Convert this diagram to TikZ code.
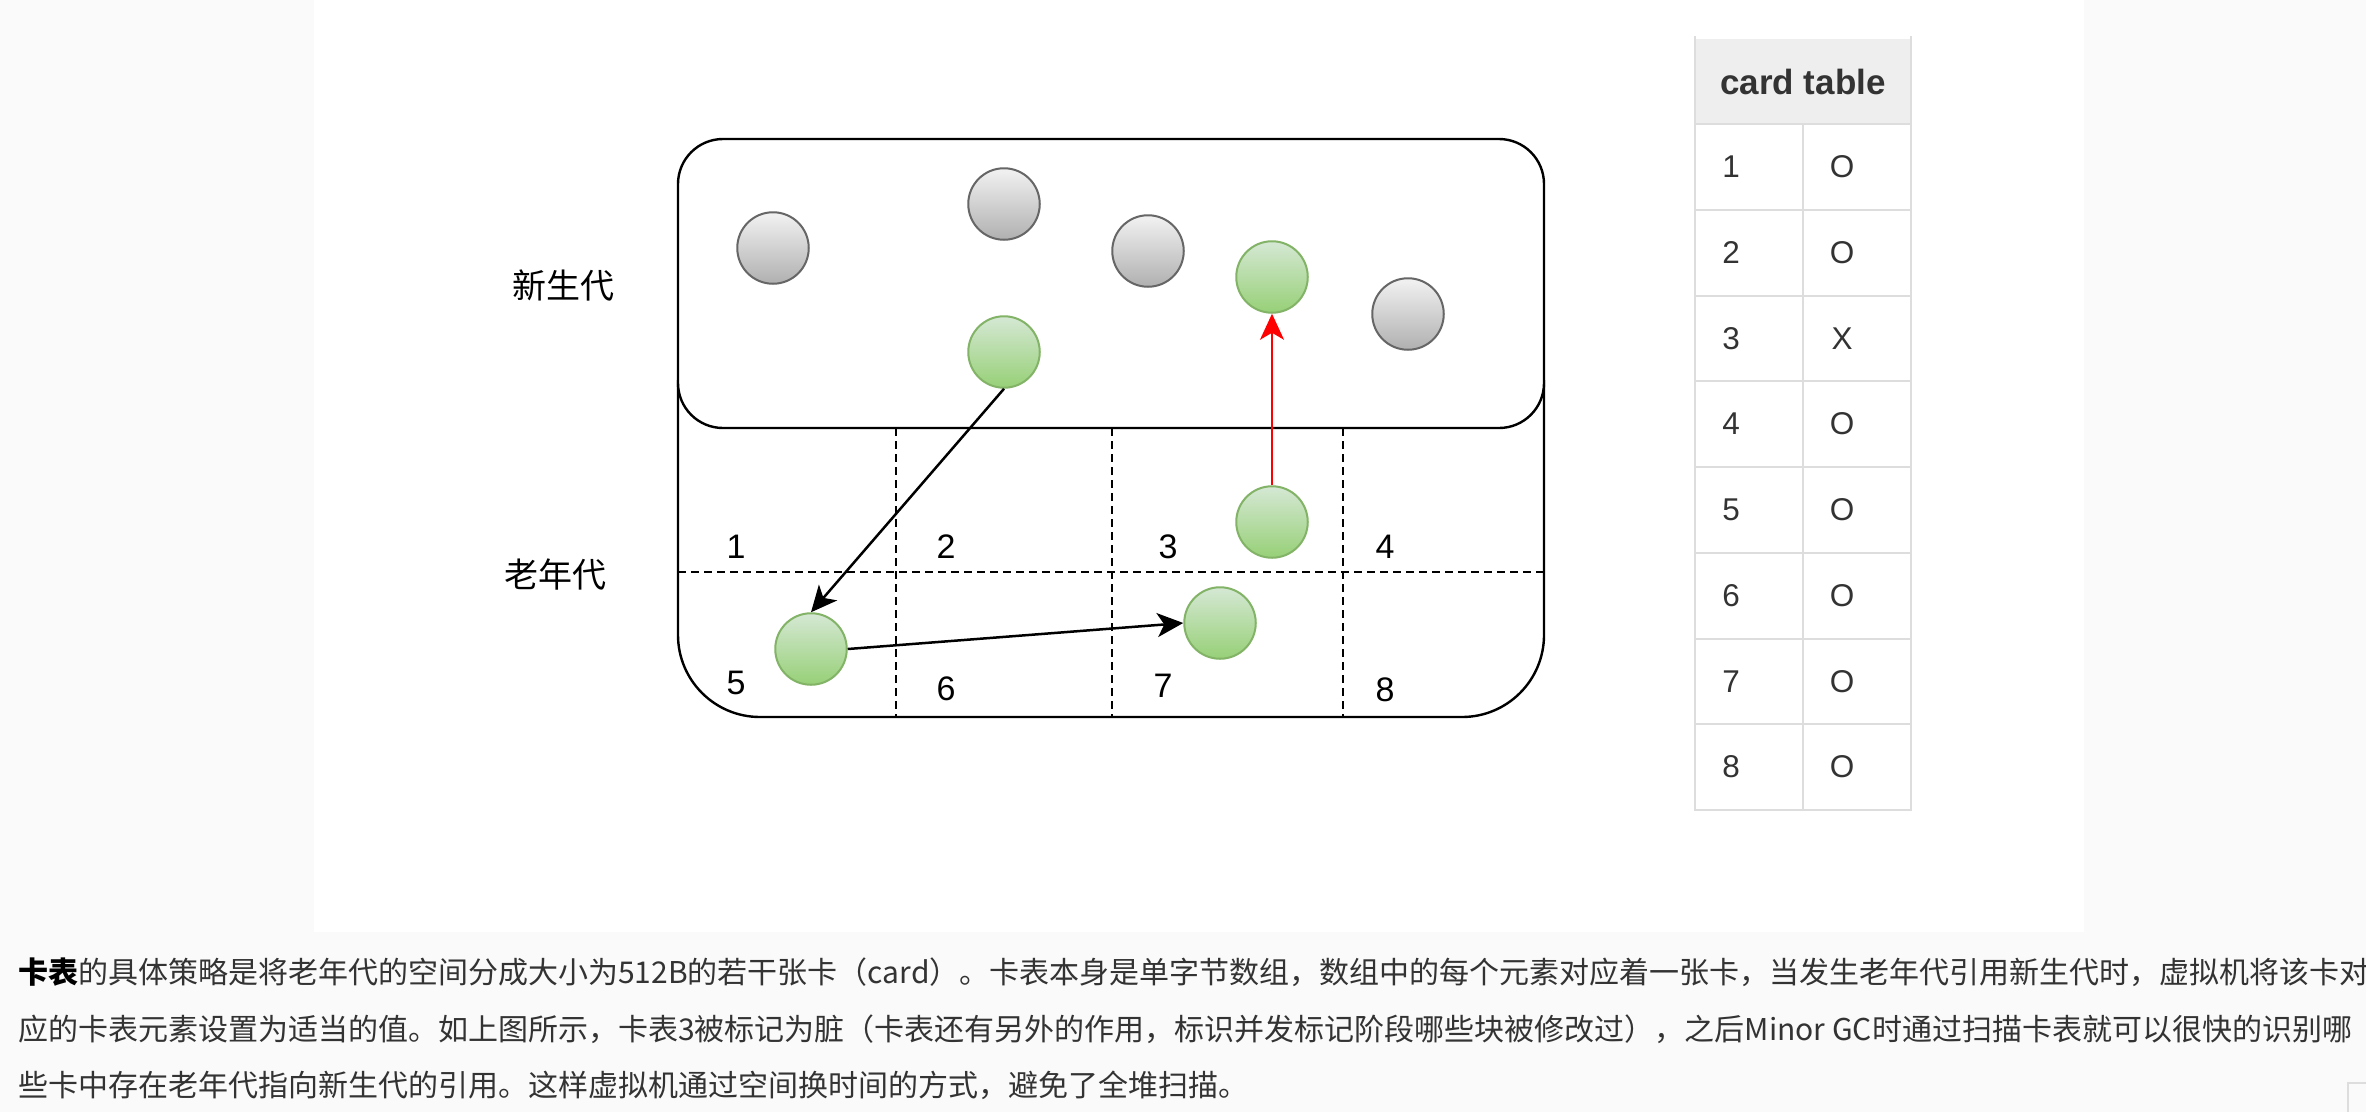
\documentclass[tikz,border=0pt]{standalone}
\usepackage{fontspec}
\setmainfont{Liberation Sans}
\newfontfamily\cjk{Noto Sans CJK SC}
\usetikzlibrary{arrows.meta}
\definecolor{pagebg}{HTML}{FAFAFA}
\definecolor{greystroke}{HTML}{666666}
\definecolor{greytop}{HTML}{F2F2F2}
\definecolor{greybot}{HTML}{B0B0B0}
\definecolor{greenstroke}{HTML}{82B366}
\definecolor{greentop}{HTML}{D5E8D4}
\definecolor{greenbot}{HTML}{97D077}
\definecolor{tblline}{HTML}{DDDDDD}
\definecolor{tblhead}{HTML}{EEEEEE}
\definecolor{txt}{HTML}{333333}
\begin{document}
\begin{tikzpicture}[x=1pt,y=-1pt,
  ball/.style={circle, inner sep=0pt, minimum size=71.5pt, line width=2pt},
  greyball/.style={ball, draw=greystroke, top color=greytop, bottom color=greybot},
  greenball/.style={ball, draw=greenstroke, top color=greentop, bottom color=greenbot},
  cardnum/.style={font=\fontsize{34}{40}\selectfont, text=black, inner sep=0pt},
  genlbl/.style={font=\cjk\fontsize{34}{40}\selectfont, text=black, inner sep=0pt},
  sep/.style={dashed, dash pattern=on 8pt off 5pt, line width=1.8pt},
  arr/.style={-{Stealth[length=26pt,width=24pt,inset=7pt]}, line width=2.5pt},
  cell/.style={font=\fontsize{31.5}{36}\selectfont, text=txt, inner sep=0pt},
  para/.style={font=\cjk\fontsize{30}{36}\selectfont, text=txt, inner sep=0pt, anchor=base west}
]
\useasboundingbox (0,0) rectangle (2366,1112);
\clip (0,0) rectangle (2366,1112);
\fill[pagebg] (0,0) rectangle (2366,1112);
\fill[white] (314,0) rectangle (2084,932);

% old generation outline
\draw[line width=2.4pt, rounded corners=82pt] (678,380) -- (678,717) -- (1544,717) -- (1544,380);
% card separators
\draw[sep] (678,572) -- (1544,572);
\foreach \x in {896,1112,1343} \draw[sep] (\x,428) -- (\x,717);
% new generation box
\draw[line width=2.4pt, fill=white, rounded corners=45pt] (678,139) rectangle (1544,428);

% labels
\node[genlbl] (young) at (563,286) {新生代};
\node[genlbl] (old) at (555,575) {老年代};
\node[cardnum] (c1) at (736,547) {1};
\node[cardnum] (c2) at (946,547) {2};
\node[cardnum] (c3) at (1168,547) {3};
\node[cardnum] (c4) at (1385,547) {4};
\node[cardnum] (c5) at (736,683) {5};
\node[cardnum] (c6) at (946,689) {6};
\node[cardnum] (c7) at (1163,686) {7};
\node[cardnum] (c8) at (1385,690) {8};

% objects
\node[greyball] (g1) at (773,248) {};
\node[greyball] (g2) at (1004,204) {};
\node[greyball] (g3) at (1148,251) {};
\node[greyball] (g4) at (1408,314) {};
\node[greenball] (n1) at (1004,352) {};
\node[greenball] (n2) at (1272,277) {};
\node[greenball] (o3) at (1272,522) {};
\node[greenball] (o5) at (811,649) {};
\node[greenball] (o7) at (1220,623) {};

% references
\draw[arr] (n1.south) -- (o5.north);
\draw[arr] (o5.east) -- (o7.west);
\draw[arr, red, line width=2pt] (o3.north) -- (n2.south);

% card table
\fill[tblhead] (1695,39) rectangle (1911,124);
\draw[tblline, line width=2pt] (1695,36) -- (1695,810) -- (1911,810) -- (1911,36);
\foreach \i in {0,...,7} \draw[tblline, line width=2pt] (1695,{124+85.75*\i}) -- (1911,{124+85.75*\i});
\draw[tblline, line width=2pt] (1803,124) -- (1803,810);
\node[font=\bfseries\fontsize{35}{40}\selectfont, text=txt, inner sep=0pt] (head) at (1803,82) {card table};
\foreach \n/\v in {1/O,2/O,3/X,4/O,5/O,6/O,7/O,8/O} {
  \node[cell] (k\n) at (1731,{124+85.75*(\n-0.5)}) {\n};
  \node[cell] (v\n) at (1842,{124+85.75*(\n-0.5)}) {\v};
}

% corner fragment
\draw[tblline, line width=2pt] (2366,1083) -- (2348,1083) -- (2348,1112);

% paragraph
\node[para] (p1) at (18,983) {{\bfseries\color{black}卡表}的具体策略是将老年代的空间分成大小为512B的若干张卡（card）。卡表本身是单字节数组，数组中的每个元素对应着一张卡，当发生老年代引用新生代时，虚拟机将该卡对};
\node[para] (p2) at (18,1040) {应的卡表元素设置为适当的值。如上图所示，卡表3被标记为脏（卡表还有另外的作用，标识并发标记阶段哪些块被修改过），之后Minor GC时通过扫描卡表就可以很快的识别哪};
\node[para] (p3) at (18,1096) {些卡中存在老年代指向新生代的引用。这样虚拟机通过空间换时间的方式，避免了全堆扫描。};
\end{tikzpicture}
\end{document}
